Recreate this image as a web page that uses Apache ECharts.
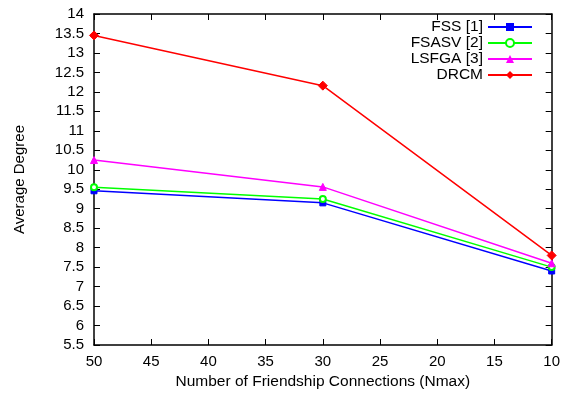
<!DOCTYPE html>
<html>
<head>
<meta charset="utf-8">
<script src="https://cdn.jsdelivr.net/npm/echarts@6/dist/echarts.min.js"></script>
<style>
  html, body { margin: 0; padding: 0; background: #fff; }
  #chart { width: 563px; height: 400px; }
</style>
</head>
<body>
<div id="chart"></div>
<script>
// x positions (Nmax) and y values
const nmax = [50, 30, 10]
const fss = [9.46, 9.15, 7.4]
const fsasv = [9.55, 9.25, 7.5]
const lsfga = [10.25, 9.56, 7.6]
const drcm = [13.45, 12.16, 7.8]

const fontFamily = 'Liberation Sans, Arial, sans-serif'

const chart = echarts.init(document.getElementById('chart'))

function pairs(ys) {
  return nmax.map((x, i) => [x, ys[i]])
}

function makeSeries(name, ys, color, symbol, size) {
  return {
    name: name,
    type: 'line',
    data: pairs(ys),
    symbol: symbol,
    symbolSize: size,
    animation: false,
    lineStyle: { color: color, width: 1.5 },
    itemStyle: { color: color, borderColor: color }
  }
}

const axisLine = { show: true, lineStyle: { color: '#000', width: 1.5 } }
const axisTick = { show: true, inside: true, length: 6, lineStyle: { color: '#000', width: 1 } }

chart.setOption({
  backgroundColor: '#fff',
  textStyle: { fontFamily: fontFamily },
  grid: { left: 94, right: 8, top: 14, bottom: 55 },
  legend: {
    orient: 'vertical',
    right: 25,
    top: 14,
    align: 'right',
    itemGap: 0,
    itemWidth: 44,
    itemHeight: 10,
    textStyle: { fontSize: 15.5, color: '#000', fontFamily: fontFamily, lineHeight: 16 },
    data: ['FSS [1]', 'FSASV [2]', 'LSFGA [3]', 'DRCM']
  },
  xAxis: [
    {
      type: 'value',
      inverse: true,
      min: 10,
      max: 50,
      interval: 5,
      name: 'Number of Friendship Connections (Nmax)',
      nameLocation: 'middle',
      nameGap: 28,
      nameTextStyle: { fontSize: 15.5, color: '#000' },
      axisLine: axisLine,
      axisTick: axisTick,
      axisLabel: { color: '#000', fontSize: 15, margin: 9 },
      splitLine: { show: false }
    },
    {
      type: 'value',
      position: 'top',
      inverse: true,
      min: 10,
      max: 50,
      interval: 5,
      axisLine: axisLine,
      axisTick: axisTick,
      axisLabel: { show: false },
      splitLine: { show: false }
    }
  ],
  yAxis: [
    {
      type: 'value',
      min: 5.5,
      max: 14,
      interval: 0.5,
      name: 'Average Degree',
      nameLocation: 'middle',
      nameGap: 67,
      nameTextStyle: { fontSize: 15, color: '#000' },
      axisLine: axisLine,
      axisTick: axisTick,
      axisLabel: { color: '#000', fontSize: 15, margin: 10 },
      splitLine: { show: false }
    },
    {
      type: 'value',
      position: 'right',
      min: 5.5,
      max: 14,
      interval: 0.5,
      axisLine: axisLine,
      axisTick: axisTick,
      axisLabel: { show: false },
      splitLine: { show: false }
    }
  ],
  series: [
    makeSeries('FSS [1]', fss, '#0000ff', 'rect', 6),
    makeSeries('FSASV [2]', fsasv, '#00ff00', 'emptyCircle', 6),
    makeSeries('LSFGA [3]', lsfga, '#ff00ff', 'triangle', 7),
    makeSeries('DRCM', drcm, '#ff0000', 'diamond', 9)
  ]
})
</script>
</body>
</html>
